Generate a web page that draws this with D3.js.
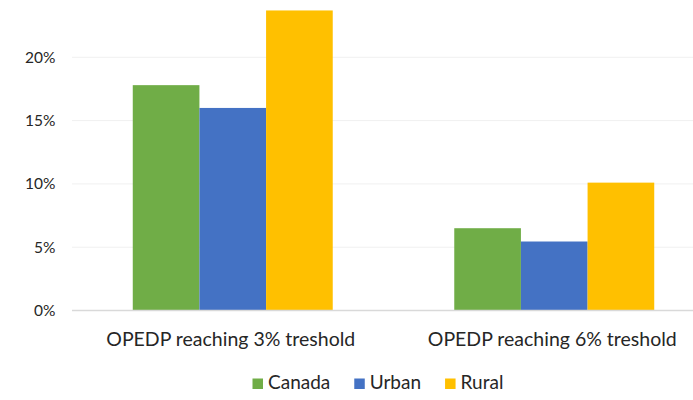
<!DOCTYPE html>
<html>
<head>
<meta charset="utf-8">
<script src="https://cdn.jsdelivr.net/npm/d3@7"></script>
<style>
  html, body { margin: 0; padding: 0; background: #fff; }
  svg { display: block; }
  text { font-family: Lato, "Open Sans", sans-serif; fill: #262626; }
</style>
</head>
<body>
<svg id="chart" width="693" height="400"></svg>
<script>
const categories = ["OPEDP reaching 3% treshold", "OPEDP reaching 6% treshold"];
const seriesNames = ["Canada", "Urban", "Rural"];
const canada = [0.178, 0.065];
const urban  = [0.160, 0.0545];
const rural  = [0.237, 0.101];
const yTicks = [0, 0.05, 0.10, 0.15, 0.20];
const colors = ["#70AD47", "#4472C4", "#FFC000"];

const seriesValues = [canada, urban, rural];
const data = categories.map((c, i) => ({
  category: c,
  values: seriesNames.map((s, j) => ({ series: s, value: seriesValues[j][i] }))
}));

const svg = d3.select("#chart");
const plotLeft = 72, plotRight = 715, plotTop = -6, plotBottom = 310.5;

const x0 = d3.scaleBand().domain(categories).range([plotLeft, plotRight]).paddingInner(0.378).paddingOuter(0.189);
const x1 = d3.scaleBand().domain(seriesNames).range([0, x0.bandwidth()]).padding(0);
const y = d3.scaleLinear().domain([0, 0.25]).range([plotBottom, plotTop]);

// gridlines
svg.append("g").selectAll("line")
  .data(yTicks.filter(d => d > 0))
  .join("line")
  .attr("x1", plotLeft).attr("x2", plotRight)
  .attr("y1", d => y(d)).attr("y2", d => y(d))
  .attr("stroke", "#f0f0f0").attr("stroke-width", 1);

// y axis labels
const yAxis = d3.axisLeft(y).tickValues(yTicks).tickFormat(d3.format(".0%")).tickSize(0).tickPadding(16.5);
const gy = svg.append("g").attr("transform", `translate(${plotLeft},0)`).call(yAxis);
gy.select(".domain").remove();
gy.selectAll("text").style("font-size", "15.5px").style("font-family", "Lato, sans-serif").attr("fill", "#262626");

// bars
svg.append("g").selectAll("g")
  .data(data)
  .join("g")
  .attr("transform", d => `translate(${x0(d.category)},0)`)
  .selectAll("rect")
  .data(d => d.values)
  .join("rect")
  .attr("x", d => x1(d.series))
  .attr("width", x1.bandwidth())
  .attr("y", d => y(d.value))
  .attr("height", d => y(0) - y(d.value))
  .attr("fill", (d, i) => colors[i]);

// baseline
svg.append("line").attr("x1", plotLeft).attr("x2", plotRight)
  .attr("y1", y(0)).attr("y2", y(0))
  .attr("stroke", "#d9d9d9").attr("stroke-width", 1.3);

// x axis labels
const xAxis = d3.axisBottom(x0).tickSize(0).tickPadding(22);
const gx = svg.append("g").attr("transform", `translate(-2,${plotBottom})`).call(xAxis);
gx.select(".domain").remove();
gx.selectAll("text").style("font-size", "19.5px").style("font-family", "Lato, sans-serif").attr("fill", "#262626");

// legend
const legend = svg.append("g").attr("transform", "translate(252.5,0)");
let lx = 0;
seriesNames.forEach((s, i) => {
  const g = legend.append("g").attr("transform", `translate(${lx},0)`);
  g.append("rect").attr("x", 0).attr("y", 378.5).attr("width", 10.5).attr("height", 10.5).attr("fill", colors[i]);
  const t = g.append("text").attr("x", 15.5).attr("y", 389.3).style("font-size", "19px").text(s);
  lx += 15.5 + t.node().getComputedTextLength() + 24;
});
</script>
</body>
</html>
